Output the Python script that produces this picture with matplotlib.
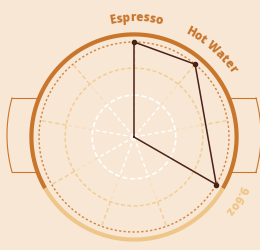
import matplotlib.pyplot as plt
import numpy as np
from matplotlib.font_manager import FontProperties
from matplotlib.textpath import TextToPath

# chart data
labels = ['Espresso', 'Hot Water', '9.6oz']
label_angles = [0, 40, 120]      # degrees, clockwise from top
values = [1.0, 1.0, 1.0]
n_spokes = 9
grid_levels = [0.44, 0.725, 1.0]
fill_start, fill_end = 120, 240  # light part of the rim

bg = '#f8e7d4'
dark = '#c8762c'
light = '#efc68a'
brown = '#4a2219'

W, H = 260, 251
cx, cy = 134, 113   # cup centre in px (from bottom left)
unit = 95.0         # px per data unit
rmax = 1.4

fig = plt.figure(figsize=(W / 100, H / 100), dpi=100, facecolor=bg)

# handles, drawn in px around the centre
hx = fig.add_axes([0, 0, 1, 1], zorder=0)
hx.set_xlim(-cx, W - cx)
hx.set_ylim(-cy, H - cy)
hx.axis('off')
yy = np.linspace(-35, 39, 60)
for side in (-1, 1):
    xx = side * (122 + 5 * (1 - ((yy - 2) / 37) ** 2))
    hx.plot(xx, yy, color=dark, lw=0.8)
    hx.plot([side * 96, xx[-1]], [39, 39], color=dark, lw=0.8)
    hx.plot([side * 96, xx[0]], [-35, -35], color=dark, lw=0.8)

# main polar axes
R = rmax * unit
ax = fig.add_axes([(cx - R) / W, (cy - R) / H, 2 * R / W, 2 * R / H],
                  projection='polar', zorder=1)
ax.set_theta_zero_location('N')
ax.set_theta_direction(-1)
ax.set_ylim(0, rmax)
ax.axis('off')

# spokes, coloured by ring band
spoke_angles = np.radians(np.arange(n_spokes) * 360 / n_spokes)
band_cols = ['white', '#f7e0bf', '#f1cd96']
band_edges = [0] + grid_levels
for a in spoke_angles:
    for k in range(3):
        ax.plot([a, a], [band_edges[k], band_edges[k + 1]], color=band_cols[k],
                lw=1.0, ls=(0, (3, 2)), zorder=2)

# grid circles
t = np.linspace(0, 2 * np.pi, 500)
ax.plot(t, np.full_like(t, grid_levels[0]), color='white', lw=1.2, ls=(0, (3, 1.6)), zorder=3)
ax.plot(t, np.full_like(t, grid_levels[1]), color='#f2cd95', lw=1.1, ls=(0, (2.5, 1.6)), zorder=3)
ax.plot(t, np.full_like(t, grid_levels[2]), color='#cf8540', lw=1.0, ls=(0, (1.6, 1.6)), zorder=3)

# rim
rim_r = 1.08
ta = np.radians(np.linspace(-fill_start, fill_start, 300))
ax.plot(ta, np.full_like(ta, rim_r), color=dark, lw=3.0, solid_capstyle='butt', zorder=4)
tb = np.radians(np.linspace(fill_start, fill_end, 200))
ax.plot(tb, np.full_like(tb, rim_r), color=light, lw=3.0, solid_capstyle='butt', zorder=4)

# data polygon
th = np.radians(label_angles)
ax.plot(np.concatenate([[0], th, [0]]), np.concatenate([[0], values, [0]]),
        color=brown, lw=1.1, zorder=5)
ax.scatter(th, values, s=9, color=brown, zorder=6)

# curved labels
prop = FontProperties(family='Open Sans', weight='heavy', size=8.5)
ttp = TextToPath()


def width_px(s):
    return ttp.get_text_width_height_descent(s, prop, ismath=False)[0] * 100 / 72


def curved_text(text, theta_deg, r, color):
    r_px = r * unit
    start = np.radians(theta_deg) - width_px(text) / r_px / 2
    for i, c in enumerate(text):
        if c == ' ':
            continue
        mid = width_px(text[:i + 1]) - width_px(c) / 2
        a = start + mid / r_px
        ax.text(a, r, c, rotation=-np.degrees(a), ha='center', va='baseline',
                rotation_mode='anchor', fontproperties=prop, color=color, zorder=7)


label_cols = [dark, dark, light]
for lab, ang, col in zip(labels, label_angles, label_cols):
    curved_text(lab, ang + 1, 1.23, col)

plt.savefig('out.png', dpi=100, facecolor=bg)
